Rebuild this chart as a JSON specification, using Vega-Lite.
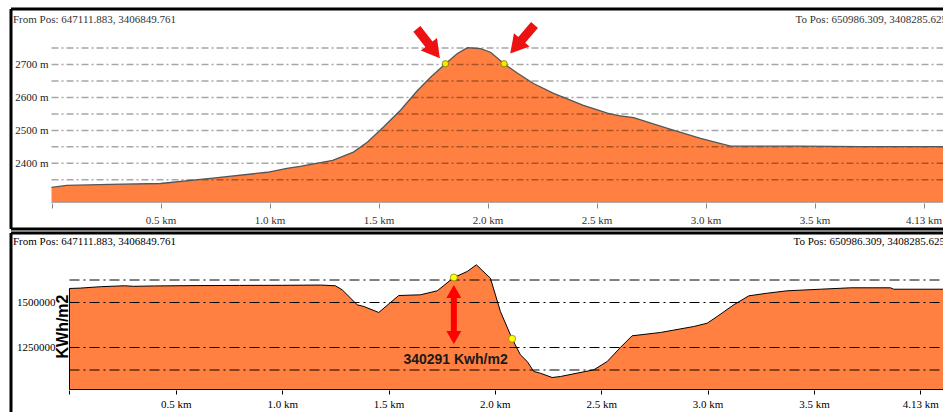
{
  "$schema": "https://vega.github.io/schema/vega-lite/v6.json",
  "background": "white",
  "padding": {"left": 9, "top": 7, "right": 0, "bottom": 0},
  "config": {"view": {"stroke": null}},
  "spacing": 0,
  "datasets": {
    "topProfile": [
      {"km": 0, "v": 2327}, {"km": 0.07, "v": 2333}, {"km": 0.27, "v": 2336}, {"km": 0.5, "v": 2339},
      {"km": 0.74, "v": 2355}, {"km": 0.99, "v": 2373}, {"km": 1.08, "v": 2385}, {"km": 1.14, "v": 2391},
      {"km": 1.29, "v": 2409}, {"km": 1.385, "v": 2434}, {"km": 1.45, "v": 2465}, {"km": 1.523, "v": 2510},
      {"km": 1.601, "v": 2561}, {"km": 1.679, "v": 2621}, {"km": 1.739, "v": 2661}, {"km": 1.807, "v": 2702},
      {"km": 1.862, "v": 2733}, {"km": 1.908, "v": 2751}, {"km": 1.968, "v": 2748}, {"km": 2.014, "v": 2737},
      {"km": 2.076, "v": 2702}, {"km": 2.138, "v": 2673}, {"km": 2.211, "v": 2642}, {"km": 2.303, "v": 2612},
      {"km": 2.44, "v": 2576}, {"km": 2.55, "v": 2552}, {"km": 2.6, "v": 2545}, {"km": 2.67, "v": 2539},
      {"km": 2.826, "v": 2506}, {"km": 2.977, "v": 2476}, {"km": 3.115, "v": 2452}, {"km": 3.436, "v": 2452},
      {"km": 3.711, "v": 2451}, {"km": 4.13, "v": 2451}
    ],
    "botProfile": [
      {"km": 0, "v": 1578000}, {"km": 0.05, "v": 1580000}, {"km": 0.15, "v": 1588000}, {"km": 0.26, "v": 1593000},
      {"km": 0.3, "v": 1590000}, {"km": 0.4, "v": 1592000}, {"km": 0.6, "v": 1594000}, {"km": 0.8, "v": 1595000},
      {"km": 1.0, "v": 1595500}, {"km": 1.18, "v": 1597000}, {"km": 1.25, "v": 1593000}, {"km": 1.282, "v": 1570600},
      {"km": 1.353, "v": 1487200}, {"km": 1.384, "v": 1477800}, {"km": 1.454, "v": 1444500}, {"km": 1.548, "v": 1538900},
      {"km": 1.65, "v": 1542800}, {"km": 1.729, "v": 1565000}, {"km": 1.807, "v": 1638900}, {"km": 1.87, "v": 1672300},
      {"km": 1.913, "v": 1709500}, {"km": 1.979, "v": 1635000}, {"km": 2.026, "v": 1450000}, {"km": 2.081, "v": 1298600},
      {"km": 2.12, "v": 1209400}, {"km": 2.152, "v": 1172200}, {"km": 2.183, "v": 1116700}, {"km": 2.214, "v": 1107200},
      {"km": 2.269, "v": 1083300}, {"km": 2.308, "v": 1088900}, {"km": 2.465, "v": 1126100}, {"km": 2.528, "v": 1172200},
      {"km": 2.59, "v": 1250000}, {"km": 2.645, "v": 1315000}, {"km": 2.778, "v": 1333300}, {"km": 2.935, "v": 1366700},
      {"km": 2.998, "v": 1385000}, {"km": 3.045, "v": 1422200}, {"km": 3.123, "v": 1487200}, {"km": 3.194, "v": 1537200},
      {"km": 3.28, "v": 1551700}, {"km": 3.374, "v": 1565000}, {"km": 3.531, "v": 1573900}, {"km": 3.672, "v": 1581700},
      {"km": 3.86, "v": 1581700}, {"km": 3.875, "v": 1573900}, {"km": 4.13, "v": 1573900}
    ]
  },
  "vconcat": [
    {
      "width": 933,
      "height": 220,
      "layer": [
        {
          "data": {"name": "topProfile"},
          "mark": {"type": "area", "color": "#FF8040", "clip": true},
          "encoding": {
            "x": {"field": "km", "type": "quantitative", "scale": {"domain": [-0.1858, 4.094], "nice": false, "zero": false},
              "axis": {"orient": "bottom", "offset": -26, "values": [0, 0.5, 1, 1.5, 2, 2.5, 3, 3.5, 4],
                "labelExpr": "datum.value == 0 ? '' : (datum.value == 4 ? '4.13 km' : format(datum.value, '.1f') + ' km')",
                "domain": false, "grid": false, "tickSize": 5, "tickColor": "#888", "labelFont": "Liberation Serif",
                "labelFontSize": 11, "labelColor": "#333", "labelPadding": 6, "labelFlush": false, "labelOverlap": false, "title": null}},
            "y": {"field": "v", "type": "quantitative", "scale": {"domain": [2201, 2868], "nice": false, "zero": false},
              "axis": {"orient": "left", "offset": -40, "values": [2400, 2500, 2600, 2700], "labelExpr": "datum.value + ' m'",
                "domain": false, "grid": false, "ticks": false, "labelPadding": 3, "labelFont": "Liberation Serif",
                "labelFontSize": 11, "labelColor": "#222", "title": null}},
            "y2": {"datum": 2282}
          }
        },
        {
          "data": {"values": [{"g": 2350}, {"g": 2400}, {"g": 2450}, {"g": 2500}, {"g": 2550}, {"g": 2600}, {"g": 2650}, {"g": 2700}, {"g": 2750}]},
          "mark": {"type": "rule", "color": "#000", "opacity": 0.35, "strokeWidth": 1.5, "strokeDash": [7, 3, 2, 3]},
          "encoding": {
            "x": {"datum": 0, "type": "quantitative", "scale": {"domain": [-0.1858, 4.094], "nice": false, "zero": false}},
            "x2": {"datum": 4.094},
            "y": {"field": "g", "type": "quantitative", "scale": {"domain": [2201, 2868], "nice": false, "zero": false}}
          }
        },
        {
          "data": {"name": "topProfile"},
          "mark": {"type": "line", "color": "#555", "strokeWidth": 1.3, "clip": true},
          "encoding": {
            "x": {"field": "km", "type": "quantitative", "scale": {"domain": [-0.1858, 4.094], "nice": false, "zero": false}},
            "y": {"field": "v", "type": "quantitative", "scale": {"domain": [2201, 2868], "nice": false, "zero": false}}
          }
        },
        {
          "data": {"values": [{}]},
          "mark": {"type": "rule", "color": "#999", "strokeWidth": 1},
          "encoding": {
            "x": {"datum": 0, "type": "quantitative", "scale": {"domain": [-0.1858, 4.094], "nice": false, "zero": false}},
            "x2": {"datum": 4.094},
            "y": {"datum": 2282, "type": "quantitative", "scale": {"domain": [2201, 2868], "nice": false, "zero": false}}
          }
        },
        {
          "data": {"values": [{"km": 1.807, "v": 2702}, {"km": 2.076, "v": 2702}]},
          "mark": {"type": "point", "filled": true, "fill": "#EEEE00", "stroke": "#777700", "strokeWidth": 0.8, "size": 40, "opacity": 1},
          "encoding": {
            "x": {"field": "km", "type": "quantitative", "scale": {"domain": [-0.1858, 4.094], "nice": false, "zero": false}},
            "y": {"field": "v", "type": "quantitative", "scale": {"domain": [2201, 2868], "nice": false, "zero": false}}
          }
        },
        {
          "data": {"values": [{"km": 1.676, "v": 2807.8, "km2": 1.7564, "v2": 2739.9}, {"km": 2.2156, "v": 2819.6, "km2": 2.1307, "v2": 2753.8}]},
          "mark": {"type": "rule", "color": "#EE1111", "strokeWidth": 9, "strokeCap": "butt"},
          "encoding": {
            "x": {"field": "km", "type": "quantitative", "scale": {"domain": [-0.1858, 4.094], "nice": false, "zero": false}},
            "x2": {"field": "km2"},
            "y": {"field": "v", "type": "quantitative", "scale": {"domain": [2201, 2868], "nice": false, "zero": false}},
            "y2": {"field": "v2"}
          }
        },
        {
          "data": {"values": [{"km": 1.7564, "v": 2739.9}]},
          "mark": {"type": "point", "shape": "triangle-up", "angle": 142, "size": 420, "filled": true, "color": "#EE1111", "opacity": 1},
          "encoding": {
            "x": {"field": "km", "type": "quantitative", "scale": {"domain": [-0.1858, 4.094], "nice": false, "zero": false}},
            "y": {"field": "v", "type": "quantitative", "scale": {"domain": [2201, 2868], "nice": false, "zero": false}}
          }
        },
        {
          "data": {"values": [{"km": 2.1307, "v": 2753.8}]},
          "mark": {"type": "point", "shape": "triangle-up", "angle": 220.5, "size": 420, "filled": true, "color": "#EE1111", "opacity": 1},
          "encoding": {
            "x": {"field": "km", "type": "quantitative", "scale": {"domain": [-0.1858, 4.094], "nice": false, "zero": false}},
            "y": {"field": "v", "type": "quantitative", "scale": {"domain": [2201, 2868], "nice": false, "zero": false}}
          }
        },
        {
          "data": {"values": [{"label": "From Pos: 647111.883, 3406849.761"}]},
          "mark": {"type": "text", "align": "left", "baseline": "middle", "dx": 2, "font": "Liberation Serif", "fontSize": 11, "color": "#333"},
          "encoding": {
            "x": {"datum": -0.1858, "type": "quantitative", "scale": {"domain": [-0.1858, 4.094], "nice": false, "zero": false}},
            "y": {"datum": 2833.6, "type": "quantitative", "scale": {"domain": [2201, 2868], "nice": false, "zero": false}},
            "text": {"field": "label"}
          }
        },
        {
          "data": {"values": [{"label": "To Pos: 650986.309, 3408285.625"}]},
          "mark": {"type": "text", "align": "left", "baseline": "middle", "font": "Liberation Serif", "fontSize": 11, "color": "#333", "clip": true},
          "encoding": {
            "x": {"datum": 3.413, "type": "quantitative", "scale": {"domain": [-0.1858, 4.094], "nice": false, "zero": false}},
            "y": {"datum": 2833.6, "type": "quantitative", "scale": {"domain": [2201, 2868], "nice": false, "zero": false}},
            "text": {"field": "label"}
          }
        },
        {
          "data": {"values": [{"x1": -0.1858, "x2": -0.1858, "y1": 2201, "y2": 2868}, {"x1": -0.1858, "x2": 4.094, "y1": 2868, "y2": 2868}, {"x1": -0.1858, "x2": 4.094, "y1": 2201, "y2": 2201}]},
          "mark": {"type": "rule", "color": "#000", "strokeWidth": 3},
          "encoding": {
            "x": {"field": "x1", "type": "quantitative", "scale": {"domain": [-0.1858, 4.094], "nice": false, "zero": false}},
            "x2": {"field": "x2"},
            "y": {"field": "y1", "type": "quantitative", "scale": {"domain": [2201, 2868], "nice": false, "zero": false}},
            "y2": {"field": "y2"}
          }
        }
      ]
    },
    {
      "width": 933,
      "height": 180,
      "layer": [
        {
          "data": {"name": "botProfile"},
          "mark": {"type": "area", "color": "#FF8040", "clip": true},
          "encoding": {
            "x": {"field": "km", "type": "quantitative", "scale": {"domain": [-0.275, 4.1115], "nice": false, "zero": false},
              "axis": {"orient": "bottom", "offset": -23, "values": [0, 0.5, 1, 1.5, 2, 2.5, 3, 3.5, 4],
                "labelExpr": "datum.value == 0 ? '' : (datum.value == 4 ? '4.13 km' : format(datum.value, '.1f') + ' km')",
                "domain": false, "grid": false, "tickSize": 4, "tickColor": "#000", "labelFont": "Liberation Serif",
                "labelFontSize": 11, "labelColor": "#000", "labelPadding": 4, "labelFlush": false, "labelOverlap": false, "title": null}},
            "y": {"field": "v", "type": "quantitative", "scale": {"domain": [886100, 1886200], "nice": false, "zero": false},
              "axis": {"orient": "left", "offset": -58, "values": [1250000, 1500000], "format": "d",
                "domain": false, "grid": false, "ticks": false, "labelPadding": 14, "labelFont": "Liberation Serif",
                "labelFontSize": 11, "labelColor": "#000", "title": "KWh/m2", "titleFont": "Liberation Sans",
                "titleFontSize": 16, "titleFontWeight": "bold", "titleColor": "#000", "titleX": -7, "titleY": 93,
                "titleAngle": -90, "titleAlign": "center", "titleBaseline": "middle"}},
            "y2": {"datum": 1016650}
          }
        },
        {
          "data": {"values": [{"g": 1125000}, {"g": 1250000}, {"g": 1500000}, {"g": 1625000}]},
          "mark": {"type": "rule", "color": "#000", "strokeWidth": 1, "strokeDash": [10, 4, 2, 4]},
          "encoding": {
            "x": {"datum": 0, "type": "quantitative", "scale": {"domain": [-0.275, 4.1115], "nice": false, "zero": false}},
            "x2": {"datum": 4.1115},
            "y": {"field": "g", "type": "quantitative", "scale": {"domain": [886100, 1886200], "nice": false, "zero": false}}
          }
        },
        {
          "data": {"name": "botProfile"},
          "mark": {"type": "line", "color": "#000", "strokeWidth": 1, "clip": true},
          "encoding": {
            "x": {"field": "km", "type": "quantitative", "scale": {"domain": [-0.275, 4.1115], "nice": false, "zero": false}},
            "y": {"field": "v", "type": "quantitative", "scale": {"domain": [886100, 1886200], "nice": false, "zero": false}}
          }
        },
        {
          "data": {"values": [{"x1": 0, "x2": 4.1115, "y1": 1016650, "y2": 1016650}, {"x1": 0, "x2": 0, "y1": 1016650, "y2": 1578000}]},
          "mark": {"type": "rule", "color": "#000", "strokeWidth": 1},
          "encoding": {
            "x": {"field": "x1", "type": "quantitative", "scale": {"domain": [-0.275, 4.1115], "nice": false, "zero": false}},
            "x2": {"field": "x2"},
            "y": {"field": "y1", "type": "quantitative", "scale": {"domain": [886100, 1886200], "nice": false, "zero": false}},
            "y2": {"field": "y2"}
          }
        },
        {
          "data": {"values": [{"km": 1.807, "v": 1638900}, {"km": 2.081, "v": 1298600}]},
          "mark": {"type": "point", "filled": true, "fill": "#FFFF00", "stroke": "#888800", "strokeWidth": 0.8, "size": 50, "opacity": 1},
          "encoding": {
            "x": {"field": "km", "type": "quantitative", "scale": {"domain": [-0.275, 4.1115], "nice": false, "zero": false}},
            "y": {"field": "v", "type": "quantitative", "scale": {"domain": [886100, 1886200], "nice": false, "zero": false}}
          }
        },
        {
          "data": {"values": [{"km": 1.807, "v": 1561100, "v2": 1305600}]},
          "mark": {"type": "rule", "color": "#FF0000", "strokeWidth": 6, "strokeCap": "butt"},
          "encoding": {
            "x": {"field": "km", "type": "quantitative", "scale": {"domain": [-0.275, 4.1115], "nice": false, "zero": false}},
            "y": {"field": "v", "type": "quantitative", "scale": {"domain": [886100, 1886200], "nice": false, "zero": false}},
            "y2": {"field": "v2"}
          }
        },
        {
          "data": {"values": [{"km": 1.807, "v": 1561100}]},
          "mark": {"type": "point", "shape": "triangle-up", "size": 225, "filled": true, "color": "#FF0000", "opacity": 1},
          "encoding": {
            "x": {"field": "km", "type": "quantitative", "scale": {"domain": [-0.275, 4.1115], "nice": false, "zero": false}},
            "y": {"field": "v", "type": "quantitative", "scale": {"domain": [886100, 1886200], "nice": false, "zero": false}}
          }
        },
        {
          "data": {"values": [{"km": 1.807, "v": 1305600}]},
          "mark": {"type": "point", "shape": "triangle-down", "size": 225, "filled": true, "color": "#FF0000", "opacity": 1},
          "encoding": {
            "x": {"field": "km", "type": "quantitative", "scale": {"domain": [-0.275, 4.1115], "nice": false, "zero": false}},
            "y": {"field": "v", "type": "quantitative", "scale": {"domain": [886100, 1886200], "nice": false, "zero": false}}
          }
        },
        {
          "data": {"values": [{"label": "340291 Kwh/m2", "km": 1.815, "v": 1183300}]},
          "mark": {"type": "text", "align": "center", "baseline": "middle", "font": "Liberation Sans", "fontSize": 14, "fontWeight": "bold", "color": "#1a1a1a"},
          "encoding": {
            "x": {"field": "km", "type": "quantitative", "scale": {"domain": [-0.275, 4.1115], "nice": false, "zero": false}},
            "y": {"field": "v", "type": "quantitative", "scale": {"domain": [886100, 1886200], "nice": false, "zero": false}},
            "text": {"field": "label"}
          }
        },
        {
          "data": {"values": [{"label": "From Pos: 647111.883, 3406849.761"}]},
          "mark": {"type": "text", "align": "left", "baseline": "middle", "dx": 2, "font": "Liberation Serif", "fontSize": 11, "color": "#000"},
          "encoding": {
            "x": {"datum": -0.275, "type": "quantitative", "scale": {"domain": [-0.275, 4.1115], "nice": false, "zero": false}},
            "y": {"datum": 1838900, "type": "quantitative", "scale": {"domain": [886100, 1886200], "nice": false, "zero": false}},
            "text": {"field": "label"}
          }
        },
        {
          "data": {"values": [{"label": "To Pos: 650986.309, 3408285.625"}]},
          "mark": {"type": "text", "align": "left", "baseline": "middle", "font": "Liberation Serif", "fontSize": 11, "color": "#000", "clip": true},
          "encoding": {
            "x": {"datum": 3.404, "type": "quantitative", "scale": {"domain": [-0.275, 4.1115], "nice": false, "zero": false}},
            "y": {"datum": 1838900, "type": "quantitative", "scale": {"domain": [886100, 1886200], "nice": false, "zero": false}},
            "text": {"field": "label"}
          }
        },
        {
          "data": {"values": [{"x1": -0.275, "x2": -0.275, "y1": 886100, "y2": 1886200}, {"x1": -0.275, "x2": 4.1115, "y1": 1886200, "y2": 1886200}]},
          "mark": {"type": "rule", "color": "#000", "strokeWidth": 3},
          "encoding": {
            "x": {"field": "x1", "type": "quantitative", "scale": {"domain": [-0.275, 4.1115], "nice": false, "zero": false}},
            "x2": {"field": "x2"},
            "y": {"field": "y1", "type": "quantitative", "scale": {"domain": [886100, 1886200], "nice": false, "zero": false}},
            "y2": {"field": "y2"}
          }
        }
      ]
    }
  ]
}
